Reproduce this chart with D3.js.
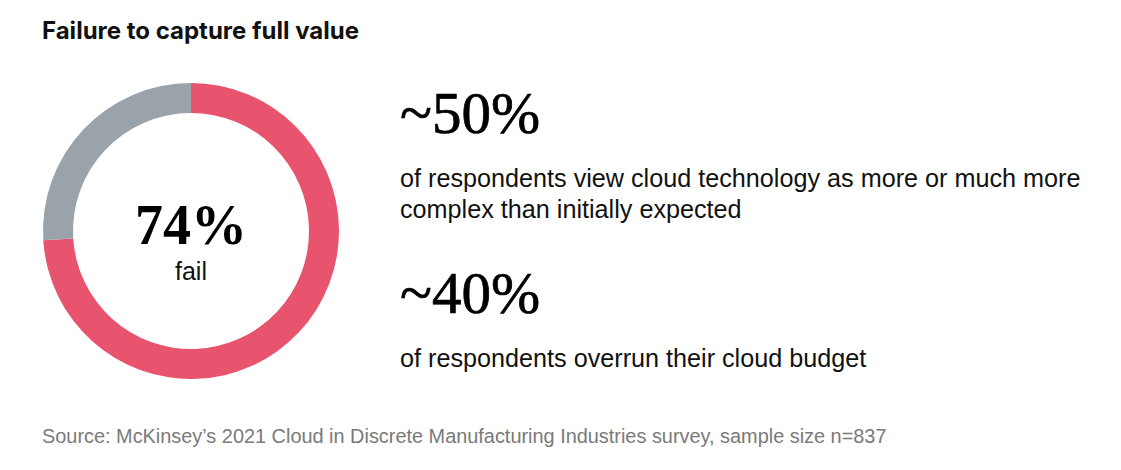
<!DOCTYPE html>
<html>
<head>
<meta charset="utf-8">
<script src="https://cdn.jsdelivr.net/npm/d3@7"></script>
<style>
  body { margin: 0; background: #fff; }
</style>
</head>
<body>
<svg id="chart" width="1121" height="470"></svg>
<script>
// Chart data
const segments = ['fail', 'rest']
const shares = [74, 26]
const segmentColors = ['#e8546e', '#9ba3aa']
const centerValue = '74%'
const centerLabel = 'fail'
const statValues = ['~50%', '~40%']
const statTexts = [
  ['of respondents view cloud technology as more or much more', 'complex than initially expected'],
  ['of respondents overrun their cloud budget'],
]
const title = 'Failure to capture full value'
const source = 'Source: McKinsey\u2019s 2021 Cloud in Discrete Manufacturing Industries survey, sample size n=837'

const sans = "'Liberation Sans', Arial, sans-serif"
const serif = "'Liberation Serif', 'Times New Roman', serif"

const svg = d3.select('#chart')

// Title
svg.append('text')
  .attr('x', 42).attr('y', 39)
  .style('font-family', 'Inter, sans-serif')
  .style('font-weight', 650)
  .style('font-size', '24px')
  .attr('fill', '#111')
  .text(title)

// Donut
const cx = 191, cy = 231
const outerR = 148, innerR = 118

const pie = d3.pie().sort(null).value((d) => d)
const arc = d3.arc().innerRadius(innerR).outerRadius(outerR)

const donut = svg.append('g').attr('transform', `translate(${cx},${cy})`)
donut.selectAll('path')
  .data(pie(shares))
  .enter()
  .append('path')
  .attr('d', arc)
  .attr('fill', (d, i) => segmentColors[i])

donut.append('text')
  .attr('y', 13)
  .attr('text-anchor', 'middle')
  .style('font-family', serif)
  .style('font-weight', 'bold')
  .style('font-size', '56px')
  .attr('fill', '#000')
  .text(centerValue)

donut.append('text')
  .attr('y', 49)
  .attr('text-anchor', 'middle')
  .style('font-family', sans)
  .style('font-size', '25px')
  .attr('fill', '#111')
  .text(centerLabel)

// Stats on the right
const statTop = [133, 313]
statValues.forEach((v, i) => {
  svg.append('text')
    .attr('x', 400).attr('y', statTop[i])
    .style('font-family', serif)
    .style('font-size', '59px')
    .attr('fill', '#000')
    .attr('stroke', '#000').attr('stroke-width', 0.7)
    .text(v)

  statTexts[i].forEach((line, j) => {
    svg.append('text')
      .attr('x', 400).attr('y', statTop[i] + 54 + j * 31)
      .style('font-family', sans)
      .style('font-size', '25.2px')
      .attr('fill', '#111')
      .text(line)
  })
})

// Source note
svg.append('text')
  .attr('x', 42).attr('y', 443)
  .style('font-family', sans)
  .style('font-size', '19.9px')
  .attr('fill', '#7a7a7a')
  .text(source)
</script>
</body>
</html>
